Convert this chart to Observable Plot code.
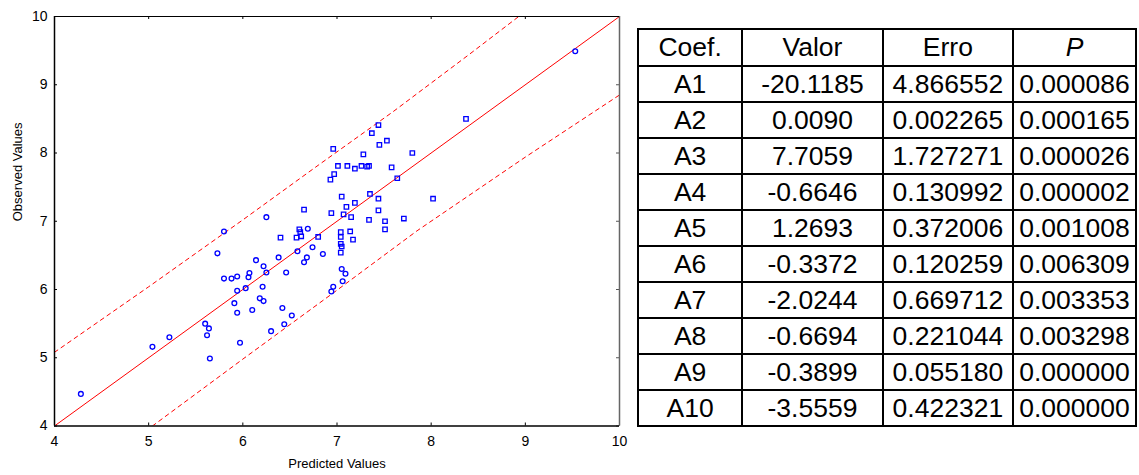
<!DOCTYPE html>
<html>
<head>
<meta charset="utf-8">
<script src="https://cdn.jsdelivr.net/npm/d3@7"></script>
<script src="https://cdn.jsdelivr.net/npm/@observablehq/plot@0.6"></script>
<style>
  html, body { margin: 0; padding: 0; background: #fff; }
  #wrap { position: relative; width: 1139px; height: 475px; overflow: hidden; background: #fff; }
  #chart { position: absolute; left: 0; top: 0; }
  #tbl {
    position: absolute; left: 637px; top: 28px;
    border-collapse: collapse;
    font-family: "Liberation Sans", Arial, sans-serif;
    font-size: 26.5px; color: #000;
    width: 500px; height: 399px;
  }
  #tbl td, #tbl th {
    border: 2.5px solid #000; text-align: center; font-weight: normal;
    padding: 0; line-height: 1;
  }
  #tbl th.p { font-style: italic; }
</style>
</head>
<body>
<div id="wrap">
  <div id="chart"></div>
  <table id="tbl"></table>
</div>
<script>
// ---------- Data ----------
const xTicks = [4, 5, 6, 7, 8, 9, 10];
const yTicks = [4, 5, 6, 7, 8, 9, 10];

// Square markers
const predictedSq = [8.37, 7.44, 7.37, 7.45, 7.53, 6.96, 7.28, 7.80, 7.01, 7.11, 7.19, 7.26, 7.32, 7.34, 7.58, 6.97, 6.93, 7.64, 7.05, 7.35, 7.19, 7.44, 8.02, 6.65, 7.10, 6.94, 7.07, 7.44, 7.15, 7.34, 7.51, 7.71, 7.51, 7.04, 7.14, 7.04, 7.17, 6.80, 6.62, 6.60, 6.61, 6.40, 6.57, 7.04, 7.05, 7.04];
const observedSq  = [8.50, 8.41, 8.29, 8.12, 8.18, 8.06, 7.98, 8.00, 7.81, 7.81, 7.77, 7.81, 7.80, 7.81, 7.79, 7.69, 7.61, 7.63, 7.36, 7.40, 7.27, 7.33, 7.33, 7.17, 7.21, 7.12, 7.10, 7.16, 7.06, 7.02, 7.00, 7.04, 6.88, 6.84, 6.85, 6.77, 6.73, 6.77, 6.78, 6.88, 6.84, 6.76, 6.76, 6.67, 6.63, 6.54];

// Circle markers
const predictedCi = [9.53, 6.25, 5.80, 6.69, 6.74, 6.68, 6.65, 6.85, 7.05, 7.09, 7.06, 6.96, 6.94, 4.28, 5.22, 5.04, 5.60, 5.64, 5.62, 5.65, 5.97, 5.73, 5.80, 5.88, 5.94, 5.94, 6.03, 5.91, 5.94, 6.07, 6.06, 6.14, 6.10, 6.22, 6.25, 6.21, 6.18, 6.22, 6.30, 6.38, 6.42, 6.44, 6.46, 6.52, 6.58];
const observedCi  = [9.49, 7.06, 6.85, 6.89, 6.62, 6.47, 6.40, 6.52, 6.30, 6.23, 6.12, 6.04, 5.97, 4.47, 5.30, 5.16, 5.50, 5.43, 5.33, 4.99, 5.22, 6.53, 6.16, 6.16, 6.19, 5.98, 6.02, 5.80, 5.66, 6.24, 6.18, 6.43, 5.70, 6.34, 6.25, 6.04, 5.87, 5.83, 5.39, 6.47, 5.73, 5.49, 6.25, 5.62, 6.56];

// Fit line and prediction bands
const fitX = [4, 10];
const fitY = [4, 10];
const upperX = [4.00, 5.00, 6.00, 6.80, 7.60, 8.40, 8.93];
const upperY = [5.08, 6.04, 7.02, 7.82, 8.61, 9.44, 10.00];
const lowerX = [5.04, 6.00, 7.00, 7.85, 9.00, 10.00];
const lowerY = [4.00, 4.98, 5.99, 6.86, 7.94, 8.85];

const xLabel = "Predicted Values";
const yLabel = "Observed Values";

// Table
const tableHeaders = ["Coef.", "Valor", "Erro", "P"];
const coefNames = ["A1", "A2", "A3", "A4", "A5", "A6", "A7", "A8", "A9", "A10"];
const coefValues = ["-20.1185", "0.0090", "7.7059", "-0.6646", "1.2693", "-0.3372", "-2.0244", "-0.6694", "-0.3899", "-3.5559"];
const coefErrors = ["4.866552", "0.002265", "1.727271", "0.130992", "0.372006", "0.120259", "0.669712", "0.221044", "0.055180", "0.422321"];
const coefP = ["0.000086", "0.000165", "0.000026", "0.000002", "0.001008", "0.006309", "0.003353", "0.003298", "0.000000", "0.000000"];

// ---------- Build ----------
const sqData = predictedSq.map((x, i) => ({x, y: observedSq[i]}));
const ciData = predictedCi.map((x, i) => ({x, y: observedCi[i]}));
const fitData = fitX.map((x, i) => ({x, y: fitY[i]}));
const upperData = upperX.map((x, i) => ({x, y: upperY[i]}));
const lowerData = lowerX.map((x, i) => ({x, y: lowerY[i]}));

const W = 632, H = 475, mL = 54, mR = 13, mT = 16, mB = 49.5;
const innerW = W - mL - mR, innerH = H - mT - mB;
const tickLen = 3;
const red = "#ff0000", blue = "#0000ff";

const chart = Plot.plot({
  width: W, height: H,
  marginLeft: mL, marginRight: mR, marginTop: mT, marginBottom: mB,
  style: {fontFamily: "'Liberation Sans', Arial, sans-serif", fontSize: "13px", background: "#fff", color: "#000"},
  x: {domain: [4, 10]},
  y: {domain: [4, 10]},
  marks: [
    Plot.axisX(xTicks, {anchor: "bottom", tickSize: 0, tickPadding: 10, label: null, fontSize: 14, tickFormat: d => String(d)}),
    Plot.axisY(yTicks, {anchor: "left", tickSize: 0, tickPadding: 7, label: null, fontSize: 14, tickFormat: d => String(d)}),
    // inward ticks
    Plot.ruleX(xTicks, {x: d => d, insetTop: innerH - tickLen, stroke: "#000", strokeWidth: 1}),
    Plot.ruleX(xTicks, {x: d => d, insetBottom: innerH - tickLen, stroke: "#000", strokeWidth: 1}),
    Plot.ruleY(yTicks, {y: d => d, insetRight: innerW - tickLen, stroke: "#000", strokeWidth: 1}),
    Plot.ruleY(yTicks, {y: d => d, insetLeft: innerW - tickLen, stroke: "#555", strokeWidth: 1}),
    // fit + bands
    Plot.line(fitData, {x: "x", y: "y", stroke: red, strokeWidth: 1, clip: true}),
    Plot.line(upperData, {x: "x", y: "y", stroke: red, strokeWidth: 1, strokeDasharray: "4,4", clip: true}),
    Plot.line(lowerData, {x: "x", y: "y", stroke: red, strokeWidth: 1, strokeDasharray: "4,4", clip: true}),
    // points
    Plot.dot(ciData, {x: "x", y: "y", symbol: "circle", r: 2.4, stroke: blue, strokeWidth: 1.3, fill: "none"}),
    Plot.dot(sqData, {x: "x", y: "y", symbol: "square", r: 2.5, stroke: blue, strokeWidth: 1.3, fill: "none"}),
    // frame
    Plot.ruleX([4], {stroke: "#000", strokeWidth: 1.5}),
    Plot.ruleX([10], {stroke: "#666", strokeWidth: 1.5}),
    Plot.ruleY([4], {stroke: "#000", strokeWidth: 1.5}),
    Plot.ruleY([10], {stroke: "#000", strokeWidth: 1}),
    // axis titles
    Plot.text([yLabel], {text: d => d, frameAnchor: "left", dx: -37, rotate: -90, fontSize: 13, fill: "#000"}),
    Plot.text([xLabel], {text: d => d, frameAnchor: "bottom", dy: 42, fontSize: 13, fill: "#000"})
  ]
});
document.getElementById("chart").appendChild(chart);

// Table
const tbl = document.getElementById("tbl");
const colWidths = [106, 142, 130, 122];
const thead = document.createElement("tr");
thead.style.height = "37px";
tableHeaders.forEach((h, i) => {
  const th = document.createElement("th");
  th.textContent = h;
  th.style.width = colWidths[i] + "px";
  if (h === "P") th.className = "p";
  thead.appendChild(th);
});
tbl.appendChild(thead);
coefNames.forEach((name, i) => {
  const tr = document.createElement("tr");
  tr.style.height = "36px";
  [name, coefValues[i], coefErrors[i], coefP[i]].forEach(v => {
    const td = document.createElement("td");
    td.textContent = v;
    tr.appendChild(td);
  });
  tbl.appendChild(tr);
});
</script>
</body>
</html>
